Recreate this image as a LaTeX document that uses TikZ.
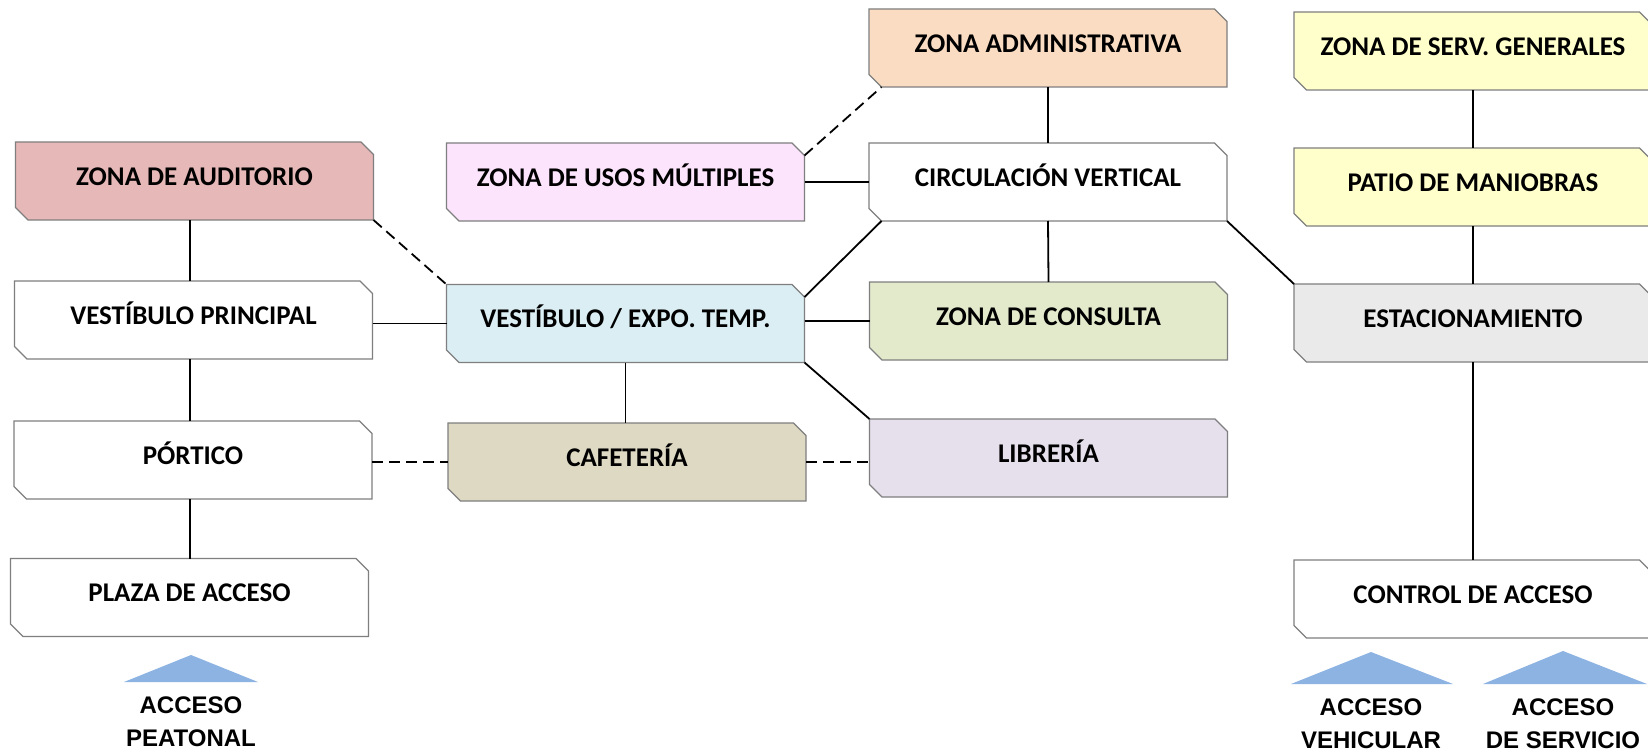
\documentclass[tikz,border=0pt]{standalone}
\usepackage{fontspec}
\setmainfont{Carlito}
\newfontfamily\accfont{Liberation Sans}
\usetikzlibrary{backgrounds}
\definecolor{cAud}{HTML}{E6B8B7}
\definecolor{cUsos}{HTML}{FCE4FC}
\definecolor{cAdm}{HTML}{FADCC2}
\definecolor{cServ}{HTML}{FFFFCC}
\definecolor{cVe}{HTML}{DAEEF3}
\definecolor{cCons}{HTML}{E2EACB}
\definecolor{cEst}{HTML}{EAEAEA}
\definecolor{cCaf}{HTML}{DDD9C3}
\definecolor{cLib}{HTML}{E5E0EC}
\definecolor{cTri}{HTML}{8DB3E2}
\definecolor{cBorder}{HTML}{7F7F7F}
\begin{document}
\begin{tikzpicture}[x=1pt,y=-1pt,
  zone/.style={minimum width=358pt,minimum height=78pt,inner sep=0pt,outer sep=0pt,
    font=\fontsize{27}{31}\selectfont\bfseries,text height=17pt,text depth=8.5pt},
  link/.style={line width=1.8pt,black},
  dlink/.style={line width=1.8pt,black,dash pattern=on 11pt off 6pt},
  boxline/.style={draw=cBorder,line width=1.1pt},
  acc/.style={font=\fontsize{24}{33}\selectfont\accfont\bfseries,align=center,inner sep=0pt},
  tri/.style={fill=cTri,draw=none}]
\useasboundingbox (0,0) rectangle (1648,754);

\node[zone] (adm) at (1048,48) {ZONA ADMINISTRATIVA};
\node[zone] (serv) at (1473,51) {ZONA DE SERV. GENERALES};
\node[zone] (aud) at (194.5,181) {ZONA DE AUDITORIO};
\node[zone] (usos) at (625.5,182) {ZONA DE USOS MÚLTIPLES};
\node[zone] (circ) at (1048,182) {CIRCULACIÓN VERTICAL};
\node[zone] (patio) at (1473,187) {PATIO DE MANIOBRAS};
\node[zone] (vp) at (193.5,320) {VESTÍBULO PRINCIPAL};
\node[zone] (ve) at (625.5,323.5) {VESTÍBULO / EXPO. TEMP.};
\node[zone] (cons) at (1048.5,321) {ZONA DE CONSULTA};
\node[zone] (est) at (1473,323) {ESTACIONAMIENTO};
\node[zone] (port) at (193,460) {PÓRTICO};
\node[zone] (caf) at (627,462) {CAFETERÍA};
\node[zone] (lib) at (1048.5,458) {LIBRERÍA};
\node[zone] (plaza) at (189.5,597.5) {PLAZA DE ACCESO};
\node[zone] (ctrl) at (1473,599) {CONTROL DE ACCESO};

\begin{scope}[on background layer]
\fill[white] (0,0) rectangle (1648,754);
\foreach \n/\col in {adm/cAdm, serv/cServ, aud/cAud, usos/cUsos, circ/white, patio/cServ, vp/white, ve/cVe, cons/cCons, est/cEst, port/white, caf/cCaf, lib/cLib, plaza/white, ctrl/white}
  \filldraw[boxline,fill=\col] (\n.north west) -- ([xshift=-12.5pt]\n.north east) -- ([yshift=-12.5pt]\n.north east) -- (\n.south east) -- ([xshift=12.5pt]\n.south west) -- ([yshift=12.5pt]\n.south west) -- cycle;
\end{scope}

\coordinate (lx) at (190,0);
\draw[link] (aud.south -| lx) -- (vp.north -| lx);
\draw[link] (vp.south -| lx) -- (port.north -| lx);
\draw[link] (port.south -| lx) -- (plaza.north -| lx);
\draw[dlink] (aud.south east) -- (ve.north west);
\draw[link] (ve.west -| vp.east) -- (ve.west);
\draw[dlink] (caf.west -| port.east) -- (caf.west);
\draw[dlink] (caf.east) -- (caf.east -| lib.west);
\draw[link] (ve.south) -- (ve.south |- caf.north);
\draw[link] (cons.west -| ve.east) -- (cons.west);
\draw[link] ([yshift=-12.5pt]ve.north east) -- ([xshift=12.5pt]circ.south west);
\draw[link] (ve.south east) -- (lib.north west);
\draw[link] (circ.south east) -- (est.north west);
\draw[link] (usos.east) -- (circ.west);
\draw[dlink] ([yshift=-12.5pt]usos.north east) -- ([xshift=12.5pt]adm.south west);
\draw[link] (adm.south) -- (circ.north);
\draw[link] (circ.south) -- (cons.north);
\draw[link] (serv.south) -- (patio.north);
\draw[link] (patio.south) -- (est.north);
\draw[link] (est.south) -- (ctrl.north);

\fill[tri] (124,682) -- (191,655) -- (258,682) -- cycle;
\fill[tri] (1291,684) -- (1371,652) -- (1453,684) -- cycle;
\fill[tri] (1483,684) -- (1563,651) -- (1647,684) -- cycle;

\node[acc] (accp) at (191,721.5) {ACCESO\\PEATONAL};
\node[acc] (accv) at (1371,724) {ACCESO\\VEHICULAR};
\node[acc] (accs) at (1563,724) {ACCESO\\DE SERVICIO};
\end{tikzpicture}
\end{document}
